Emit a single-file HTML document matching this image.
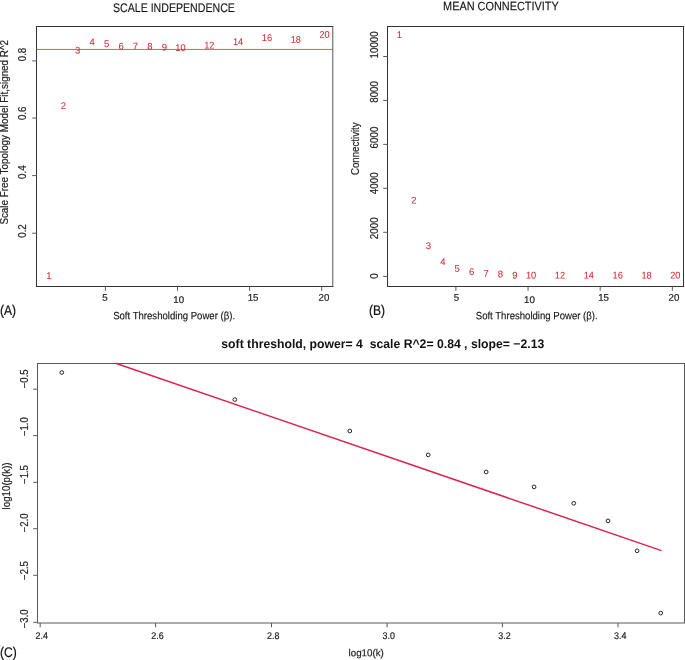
<!DOCTYPE html>
<html><head><meta charset="utf-8"><title>chart</title>
<style>
html,body{margin:0;padding:0;background:#fff;}
body{width:685px;height:660px;overflow:hidden;}
svg{display:block;will-change:transform;}
text{font-family:"Liberation Sans",sans-serif;}
</style></head><body>
<svg width="685" height="660" viewBox="0 0 685 660">
<rect width="685" height="660" fill="#fff"/>
<g id="A">
<line x1="36.50" y1="26.00" x2="36.50" y2="287.00" stroke="#333" stroke-width="1"/>
<line x1="36.50" y1="26.50" x2="333.30" y2="26.50" stroke="#333" stroke-width="1"/>
<line x1="36.50" y1="286.50" x2="333.30" y2="286.50" stroke="#333" stroke-width="1"/>
<line x1="332.80" y1="26.50" x2="332.80" y2="286.50" stroke="#555" stroke-width="1"/>
<line x1="32.20" y1="233.20" x2="36.50" y2="233.20" stroke="#5a5a5a" stroke-width="1"/>
<text transform="translate(26.10,231.00) rotate(-90) scale(0.9600,1)" text-anchor="middle" style="font-size:10.2px;fill:#222;stroke:#222;stroke-width:0.2px;">0.2</text>
<line x1="32.20" y1="175.60" x2="36.50" y2="175.60" stroke="#5a5a5a" stroke-width="1"/>
<text transform="translate(26.10,172.10) rotate(-90) scale(0.9600,1)" text-anchor="middle" style="font-size:10.2px;fill:#222;stroke:#222;stroke-width:0.2px;">0.4</text>
<line x1="32.20" y1="118.00" x2="36.50" y2="118.00" stroke="#5a5a5a" stroke-width="1"/>
<text transform="translate(26.10,113.30) rotate(-90) scale(0.9600,1)" text-anchor="middle" style="font-size:10.2px;fill:#222;stroke:#222;stroke-width:0.2px;">0.6</text>
<line x1="32.20" y1="60.90" x2="36.50" y2="60.90" stroke="#5a5a5a" stroke-width="1"/>
<text transform="translate(26.10,54.50) rotate(-90) scale(0.9600,1)" text-anchor="middle" style="font-size:10.2px;fill:#222;stroke:#222;stroke-width:0.2px;">0.8</text>
<line x1="105.40" y1="286.50" x2="105.40" y2="290.80" stroke="#5a5a5a" stroke-width="1"/>
<text transform="translate(105.00,300.80) rotate(0.03)" text-anchor="middle" style="font-size:9.7px;fill:#222;stroke:#222;stroke-width:0.2px;">5</text>
<line x1="177.50" y1="286.50" x2="177.50" y2="290.80" stroke="#5a5a5a" stroke-width="1"/>
<text transform="translate(178.70,303.00) rotate(0.03)" text-anchor="middle" style="font-size:9.7px;fill:#222;stroke:#222;stroke-width:0.2px;">10</text>
<line x1="249.60" y1="286.50" x2="249.60" y2="290.80" stroke="#5a5a5a" stroke-width="1"/>
<text transform="translate(253.10,300.80) rotate(0.03)" text-anchor="middle" style="font-size:9.7px;fill:#222;stroke:#222;stroke-width:0.2px;">15</text>
<line x1="321.70" y1="286.50" x2="321.70" y2="290.80" stroke="#5a5a5a" stroke-width="1"/>
<text transform="translate(324.00,300.80) rotate(0.03)" text-anchor="middle" style="font-size:9.7px;fill:#222;stroke:#222;stroke-width:0.2px;">20</text>
<line x1="36.50" y1="49.45" x2="332.80" y2="49.45" stroke="#c9444e" stroke-width="0.85"/>
<text transform="translate(48.92,278.90) rotate(0.03) scale(0.9800,1)" text-anchor="middle" style="font-size:9.7px;fill:#d42f3a;stroke:#d42f3a;stroke-width:0.08px;">1</text>
<text transform="translate(63.34,108.90) rotate(0.03) scale(0.9800,1)" text-anchor="middle" style="font-size:9.7px;fill:#d42f3a;stroke:#d42f3a;stroke-width:0.08px;">2</text>
<text transform="translate(77.76,53.40) rotate(0.03) scale(0.9800,1)" text-anchor="middle" style="font-size:9.7px;fill:#d42f3a;stroke:#d42f3a;stroke-width:0.08px;">3</text>
<text transform="translate(92.18,45.30) rotate(0.03) scale(0.9800,1)" text-anchor="middle" style="font-size:9.7px;fill:#d42f3a;stroke:#d42f3a;stroke-width:0.08px;">4</text>
<text transform="translate(106.60,47.00) rotate(0.03) scale(0.9800,1)" text-anchor="middle" style="font-size:9.7px;fill:#d42f3a;stroke:#d42f3a;stroke-width:0.08px;">5</text>
<text transform="translate(121.02,49.60) rotate(0.03) scale(0.9800,1)" text-anchor="middle" style="font-size:9.7px;fill:#d42f3a;stroke:#d42f3a;stroke-width:0.08px;">6</text>
<text transform="translate(135.44,49.60) rotate(0.03) scale(0.9800,1)" text-anchor="middle" style="font-size:9.7px;fill:#d42f3a;stroke:#d42f3a;stroke-width:0.08px;">7</text>
<text transform="translate(149.86,49.60) rotate(0.03) scale(0.9800,1)" text-anchor="middle" style="font-size:9.7px;fill:#d42f3a;stroke:#d42f3a;stroke-width:0.08px;">8</text>
<text transform="translate(164.28,50.40) rotate(0.03) scale(0.9800,1)" text-anchor="middle" style="font-size:9.7px;fill:#d42f3a;stroke:#d42f3a;stroke-width:0.08px;">9</text>
<text transform="translate(180.40,51.10) rotate(0.03) scale(0.9500,1)" text-anchor="middle" style="font-size:9.7px;fill:#d42f3a;stroke:#d42f3a;stroke-width:0.08px;">10</text>
<text transform="translate(209.24,48.40) rotate(0.03) scale(0.9500,1)" text-anchor="middle" style="font-size:9.7px;fill:#d42f3a;stroke:#d42f3a;stroke-width:0.08px;">12</text>
<text transform="translate(238.08,44.90) rotate(0.03) scale(0.9500,1)" text-anchor="middle" style="font-size:9.7px;fill:#d42f3a;stroke:#d42f3a;stroke-width:0.08px;">14</text>
<text transform="translate(266.92,41.10) rotate(0.03) scale(0.9500,1)" text-anchor="middle" style="font-size:9.7px;fill:#d42f3a;stroke:#d42f3a;stroke-width:0.08px;">16</text>
<text transform="translate(295.76,42.80) rotate(0.03) scale(0.9500,1)" text-anchor="middle" style="font-size:9.7px;fill:#d42f3a;stroke:#d42f3a;stroke-width:0.08px;">18</text>
<text transform="translate(324.60,37.80) rotate(0.03) scale(0.9500,1)" text-anchor="middle" style="font-size:9.7px;fill:#d42f3a;stroke:#d42f3a;stroke-width:0.08px;">20</text>
<text transform="translate(173.90,12.30) rotate(0.03) scale(0.8490,1)" text-anchor="middle" style="font-size:12.5px;fill:#111;stroke:#111;stroke-width:0.12px;">SCALE INDEPENDENCE</text>
<text transform="translate(174.10,319.20) rotate(0.03) scale(0.9050,1)" text-anchor="middle" style="font-size:10.6px;fill:#111;stroke:#111;stroke-width:0.12px;">Soft Thresholding Power (β).</text>
<text transform="translate(8.40,132.30) rotate(-90) scale(0.9570,1)" text-anchor="middle" style="font-size:10.3px;fill:#222;stroke:#222;stroke-width:0.2px;">Scale Free Topology Model Fit,signed R^2</text>
<text transform="translate(0.00,314.60) rotate(0.03) scale(0.8600,1)" text-anchor="start" style="font-size:14.0px;fill:#111;stroke:#111;stroke-width:0.2px;">(A)</text>
</g>
<g id="B">
<line x1="387.50" y1="26.00" x2="387.50" y2="287.00" stroke="#333" stroke-width="1"/>
<line x1="387.50" y1="26.50" x2="684.00" y2="26.50" stroke="#333" stroke-width="1"/>
<line x1="387.50" y1="286.50" x2="684.00" y2="286.50" stroke="#333" stroke-width="1"/>
<line x1="683.50" y1="26.50" x2="683.50" y2="286.50" stroke="#333" stroke-width="1"/>
<line x1="383.20" y1="276.40" x2="387.50" y2="276.40" stroke="#5a5a5a" stroke-width="1"/>
<text transform="translate(377.70,276.10) rotate(-90) scale(0.9600,1)" text-anchor="middle" style="font-size:10.2px;fill:#222;stroke:#222;stroke-width:0.2px;">0</text>
<line x1="383.20" y1="232.30" x2="387.50" y2="232.30" stroke="#5a5a5a" stroke-width="1"/>
<text transform="translate(377.70,228.30) rotate(-90) scale(0.9600,1)" text-anchor="middle" style="font-size:10.2px;fill:#222;stroke:#222;stroke-width:0.2px;">2000</text>
<line x1="383.20" y1="188.30" x2="387.50" y2="188.30" stroke="#5a5a5a" stroke-width="1"/>
<text transform="translate(377.70,183.30) rotate(-90) scale(0.9600,1)" text-anchor="middle" style="font-size:10.2px;fill:#222;stroke:#222;stroke-width:0.2px;">4000</text>
<line x1="383.20" y1="144.40" x2="387.50" y2="144.40" stroke="#5a5a5a" stroke-width="1"/>
<text transform="translate(377.70,137.50) rotate(-90) scale(0.9600,1)" text-anchor="middle" style="font-size:10.2px;fill:#222;stroke:#222;stroke-width:0.2px;">6000</text>
<line x1="383.20" y1="100.40" x2="387.50" y2="100.40" stroke="#5a5a5a" stroke-width="1"/>
<text transform="translate(377.70,91.90) rotate(-90) scale(0.9600,1)" text-anchor="middle" style="font-size:10.2px;fill:#222;stroke:#222;stroke-width:0.2px;">8000</text>
<line x1="383.20" y1="56.50" x2="387.50" y2="56.50" stroke="#5a5a5a" stroke-width="1"/>
<text transform="translate(377.70,44.90) rotate(-90) scale(0.9600,1)" text-anchor="middle" style="font-size:10.2px;fill:#222;stroke:#222;stroke-width:0.2px;">10000</text>
<line x1="455.90" y1="286.50" x2="455.90" y2="290.80" stroke="#5a5a5a" stroke-width="1"/>
<text transform="translate(456.50,300.80) rotate(0.03)" text-anchor="middle" style="font-size:9.7px;fill:#222;stroke:#222;stroke-width:0.2px;">5</text>
<line x1="528.05" y1="286.50" x2="528.05" y2="290.80" stroke="#5a5a5a" stroke-width="1"/>
<text transform="translate(529.50,303.00) rotate(0.03)" text-anchor="middle" style="font-size:9.7px;fill:#222;stroke:#222;stroke-width:0.2px;">10</text>
<line x1="600.20" y1="286.50" x2="600.20" y2="290.80" stroke="#5a5a5a" stroke-width="1"/>
<text transform="translate(603.60,300.80) rotate(0.03)" text-anchor="middle" style="font-size:9.7px;fill:#222;stroke:#222;stroke-width:0.2px;">15</text>
<line x1="672.35" y1="286.50" x2="672.35" y2="290.80" stroke="#5a5a5a" stroke-width="1"/>
<text transform="translate(674.00,300.80) rotate(0.03)" text-anchor="middle" style="font-size:9.7px;fill:#222;stroke:#222;stroke-width:0.2px;">20</text>
<text transform="translate(399.48,38.10) rotate(0.03) scale(0.9800,1)" text-anchor="middle" style="font-size:9.7px;fill:#d42f3a;stroke:#d42f3a;stroke-width:0.08px;">1</text>
<text transform="translate(413.91,203.60) rotate(0.03) scale(0.9800,1)" text-anchor="middle" style="font-size:9.7px;fill:#d42f3a;stroke:#d42f3a;stroke-width:0.08px;">2</text>
<text transform="translate(428.34,249.10) rotate(0.03) scale(0.9800,1)" text-anchor="middle" style="font-size:9.7px;fill:#d42f3a;stroke:#d42f3a;stroke-width:0.08px;">3</text>
<text transform="translate(442.77,265.10) rotate(0.03) scale(0.9800,1)" text-anchor="middle" style="font-size:9.7px;fill:#d42f3a;stroke:#d42f3a;stroke-width:0.08px;">4</text>
<text transform="translate(457.20,271.70) rotate(0.03) scale(0.9800,1)" text-anchor="middle" style="font-size:9.7px;fill:#d42f3a;stroke:#d42f3a;stroke-width:0.08px;">5</text>
<text transform="translate(471.63,274.90) rotate(0.03) scale(0.9800,1)" text-anchor="middle" style="font-size:9.7px;fill:#d42f3a;stroke:#d42f3a;stroke-width:0.08px;">6</text>
<text transform="translate(486.06,276.70) rotate(0.03) scale(0.9800,1)" text-anchor="middle" style="font-size:9.7px;fill:#d42f3a;stroke:#d42f3a;stroke-width:0.08px;">7</text>
<text transform="translate(500.49,277.20) rotate(0.03) scale(0.9800,1)" text-anchor="middle" style="font-size:9.7px;fill:#d42f3a;stroke:#d42f3a;stroke-width:0.08px;">8</text>
<text transform="translate(514.92,278.40) rotate(0.03) scale(0.9800,1)" text-anchor="middle" style="font-size:9.7px;fill:#d42f3a;stroke:#d42f3a;stroke-width:0.08px;">9</text>
<text transform="translate(531.05,278.40) rotate(0.03) scale(0.9500,1)" text-anchor="middle" style="font-size:9.7px;fill:#d42f3a;stroke:#d42f3a;stroke-width:0.08px;">10</text>
<text transform="translate(559.91,278.40) rotate(0.03) scale(0.9500,1)" text-anchor="middle" style="font-size:9.7px;fill:#d42f3a;stroke:#d42f3a;stroke-width:0.08px;">12</text>
<text transform="translate(588.77,278.40) rotate(0.03) scale(0.9500,1)" text-anchor="middle" style="font-size:9.7px;fill:#d42f3a;stroke:#d42f3a;stroke-width:0.08px;">14</text>
<text transform="translate(617.63,278.40) rotate(0.03) scale(0.9500,1)" text-anchor="middle" style="font-size:9.7px;fill:#d42f3a;stroke:#d42f3a;stroke-width:0.08px;">16</text>
<text transform="translate(646.49,278.40) rotate(0.03) scale(0.9500,1)" text-anchor="middle" style="font-size:9.7px;fill:#d42f3a;stroke:#d42f3a;stroke-width:0.08px;">18</text>
<text transform="translate(675.35,278.40) rotate(0.03) scale(0.9500,1)" text-anchor="middle" style="font-size:9.7px;fill:#d42f3a;stroke:#d42f3a;stroke-width:0.08px;">20</text>
<text transform="translate(500.90,10.20) rotate(0.03) scale(0.8950,1)" text-anchor="middle" style="font-size:12.2px;fill:#111;stroke:#111;stroke-width:0.12px;">MEAN CONNECTIVITY</text>
<text transform="translate(536.70,319.20) rotate(0.03) scale(0.9050,1)" text-anchor="middle" style="font-size:10.6px;fill:#111;stroke:#111;stroke-width:0.12px;">Soft Thresholding Power (β).</text>
<text transform="translate(359.30,148.70) rotate(-90) scale(0.9400,1)" text-anchor="middle" style="font-size:10.3px;fill:#222;stroke:#222;stroke-width:0.2px;">Connectivity</text>
<text transform="translate(369.00,314.60) rotate(0.03) scale(0.8600,1)" text-anchor="start" style="font-size:14.0px;fill:#111;stroke:#111;stroke-width:0.2px;">(B)</text>
</g>
<g id="C">
<rect x="37.5" y="363.5" width="647.0" height="259.5" fill="none" stroke="#5a5a5a" stroke-width="1"/>
<line x1="33.20" y1="389.20" x2="37.50" y2="389.20" stroke="#5a5a5a" stroke-width="1"/>
<text transform="translate(28.10,378.80) rotate(-90) scale(0.9300,1)" text-anchor="middle" style="font-size:10.3px;fill:#222;stroke:#222;stroke-width:0.2px;">−0.5</text>
<line x1="33.20" y1="435.60" x2="37.50" y2="435.60" stroke="#5a5a5a" stroke-width="1"/>
<text transform="translate(28.10,426.60) rotate(-90) scale(0.9300,1)" text-anchor="middle" style="font-size:10.3px;fill:#222;stroke:#222;stroke-width:0.2px;">−1.0</text>
<line x1="33.20" y1="482.30" x2="37.50" y2="482.30" stroke="#5a5a5a" stroke-width="1"/>
<text transform="translate(28.10,474.50) rotate(-90) scale(0.9300,1)" text-anchor="middle" style="font-size:10.3px;fill:#222;stroke:#222;stroke-width:0.2px;">−1.5</text>
<line x1="33.20" y1="528.70" x2="37.50" y2="528.70" stroke="#5a5a5a" stroke-width="1"/>
<text transform="translate(28.10,522.80) rotate(-90) scale(0.9300,1)" text-anchor="middle" style="font-size:10.3px;fill:#222;stroke:#222;stroke-width:0.2px;">−2.0</text>
<line x1="33.20" y1="575.30" x2="37.50" y2="575.30" stroke="#5a5a5a" stroke-width="1"/>
<text transform="translate(28.10,570.50) rotate(-90) scale(0.9300,1)" text-anchor="middle" style="font-size:10.3px;fill:#222;stroke:#222;stroke-width:0.2px;">−2.5</text>
<line x1="33.20" y1="622.30" x2="37.50" y2="622.30" stroke="#5a5a5a" stroke-width="1"/>
<text transform="translate(28.10,618.80) rotate(-90) scale(0.9300,1)" text-anchor="middle" style="font-size:10.3px;fill:#222;stroke:#222;stroke-width:0.2px;">−3.0</text>
<line x1="40.20" y1="623.00" x2="40.20" y2="627.30" stroke="#5a5a5a" stroke-width="1"/>
<text transform="translate(41.80,639.00) rotate(0.03) scale(0.9200,1)" text-anchor="middle" style="font-size:9.7px;fill:#222;stroke:#222;stroke-width:0.2px;">2.4</text>
<line x1="155.60" y1="623.00" x2="155.60" y2="627.30" stroke="#5a5a5a" stroke-width="1"/>
<text transform="translate(157.50,639.00) rotate(0.03) scale(0.9200,1)" text-anchor="middle" style="font-size:9.7px;fill:#222;stroke:#222;stroke-width:0.2px;">2.6</text>
<line x1="271.50" y1="623.00" x2="271.50" y2="627.30" stroke="#5a5a5a" stroke-width="1"/>
<text transform="translate(273.20,639.00) rotate(0.03) scale(0.9200,1)" text-anchor="middle" style="font-size:9.7px;fill:#222;stroke:#222;stroke-width:0.2px;">2.8</text>
<line x1="387.10" y1="623.00" x2="387.10" y2="627.30" stroke="#5a5a5a" stroke-width="1"/>
<text transform="translate(388.80,639.00) rotate(0.03) scale(0.9200,1)" text-anchor="middle" style="font-size:9.7px;fill:#222;stroke:#222;stroke-width:0.2px;">3.0</text>
<line x1="502.40" y1="623.00" x2="502.40" y2="627.30" stroke="#5a5a5a" stroke-width="1"/>
<text transform="translate(504.50,639.00) rotate(0.03) scale(0.9200,1)" text-anchor="middle" style="font-size:9.7px;fill:#222;stroke:#222;stroke-width:0.2px;">3.2</text>
<line x1="618.00" y1="623.00" x2="618.00" y2="627.30" stroke="#5a5a5a" stroke-width="1"/>
<text transform="translate(620.20,639.00) rotate(0.03) scale(0.9200,1)" text-anchor="middle" style="font-size:9.7px;fill:#222;stroke:#222;stroke-width:0.2px;">3.4</text>
<line x1="115.60" y1="363.30" x2="661.50" y2="550.60" stroke="#dc2450" stroke-width="1.5"/>
<circle cx="61.8" cy="372.5" r="1.85" fill="none" stroke="#1a1a1a" stroke-width="0.95"/>
<circle cx="234.8" cy="399.6" r="1.85" fill="none" stroke="#1a1a1a" stroke-width="0.95"/>
<circle cx="349.8" cy="431.0" r="1.85" fill="none" stroke="#1a1a1a" stroke-width="0.95"/>
<circle cx="428.2" cy="454.9" r="1.85" fill="none" stroke="#1a1a1a" stroke-width="0.95"/>
<circle cx="486.2" cy="472.0" r="1.85" fill="none" stroke="#1a1a1a" stroke-width="0.95"/>
<circle cx="534.1" cy="486.9" r="1.85" fill="none" stroke="#1a1a1a" stroke-width="0.95"/>
<circle cx="573.8" cy="503.3" r="1.85" fill="none" stroke="#1a1a1a" stroke-width="0.95"/>
<circle cx="608.0" cy="520.9" r="1.85" fill="none" stroke="#1a1a1a" stroke-width="0.95"/>
<circle cx="637.1" cy="550.8" r="1.85" fill="none" stroke="#1a1a1a" stroke-width="0.95"/>
<circle cx="660.7" cy="613.1" r="1.85" fill="none" stroke="#1a1a1a" stroke-width="0.95"/>
<text transform="translate(221.30,347.90) rotate(0.03) scale(0.9780,1)" text-anchor="start" style="font-size:12.5px;fill:#111;font-weight:bold;" xml:space="preserve">soft threshold, power= 4  scale R^2= 0.84 , slope= −2.13</text>
<text transform="translate(366.20,656.20) rotate(0.03) scale(0.9600,1)" text-anchor="middle" style="font-size:10.2px;fill:#222;stroke:#222;stroke-width:0.2px;">log10(k)</text>
<text transform="translate(9.80,485.90) rotate(-90) scale(0.9450,1)" text-anchor="middle" style="font-size:10.3px;fill:#222;stroke:#222;stroke-width:0.2px;">log10(p(k))</text>
<text transform="translate(0.00,656.50) rotate(0.03) scale(0.8600,1)" text-anchor="start" style="font-size:14.0px;fill:#111;stroke:#111;stroke-width:0.2px;">(C)</text>
</g>
</svg>
</body></html>
